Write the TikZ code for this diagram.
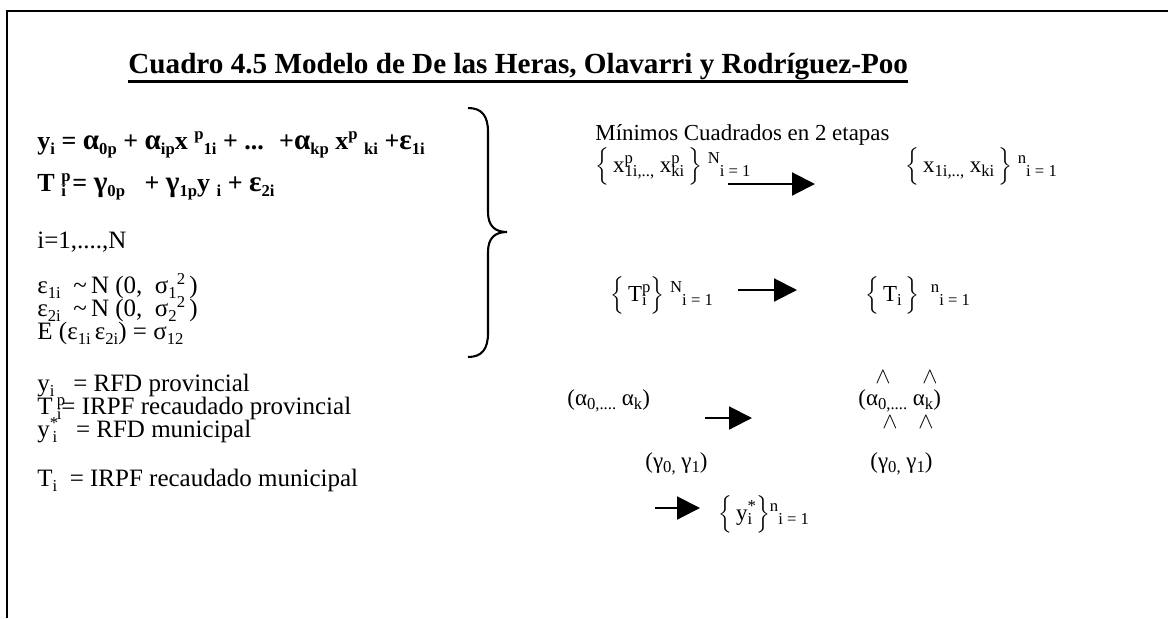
\documentclass[tikz,border=0pt]{standalone}
\usepackage{fontspec}
\setmainfont{Liberation Serif}
\usetikzlibrary{arrows.meta,positioning}

\newcommand{\hi}[1]{\raisebox{0.36em}{\footnotesize #1}}
\newcommand{\lo}[1]{\raisebox{-0.2em}{\footnotesize #1}}
\newcommand{\stk}[2]{\rlap{\hi{#1}}\lo{#2}}
\newcommand{\gk}[1]{{\fontsize{14}{14}\selectfont #1}}
\newcommand{\llave}[1]{$\Big\{$\,#1\,$\Big\}$}

\begin{document}
\begin{tikzpicture}[x=0.48pt,y=-0.48pt]
    \tikzstyle{txt}=[anchor=base west,inner sep=0pt,font=\fontsize{12}{14}\selectfont]
    \tikzstyle{eq}=[txt,font=\fontsize{12.5}{14}\selectfont\bfseries]
    \tikzstyle{rtxt}=[txt,font=\fontsize{11}{13}\selectfont]
    \tikzstyle{hat}=[anchor=base,inner sep=0pt,font=\fontsize{11}{13}\selectfont]
    \tikzstyle{arr}=[-{Triangle[length=11pt,width=11pt]},line width=1pt]

    \useasboundingbox (0,0) rectangle (1168,618);
    \draw[line width=1.4pt] (7,618) -- (7,11) -- (1168,11);

    % titulo
    \node[txt,font=\fontsize{14}{16}\selectfont\bfseries] at (128,73) (title)
        {Cuadro 4.5 Modelo de De las Heras, Olavarri y Rodríguez-Poo};
    \draw[line width=1.4pt] ([yshift=-4pt]title.base west) -- ([yshift=-4pt]title.base east);

    % modelo
    \node[eq] at (37,149) (eq1) {y\lo{i} = \gk{α}\lo{0p} + \gk{α}\lo{ip}x~\hi{p}\lo{1i} + ...~ +\gk{α}\lo{kp}~x\hi{p}~\lo{ki} +\gk{ε}\lo{1i}};
    \node[eq] at (37,191) (eq2) {T~\stk{p}{i} = \gk{γ}\lo{0p}~~ + \gk{γ}\lo{1p}y~\lo{i} + \gk{ε}\lo{2i}};
    \node[txt] at (37,248) (idx) {i=1,....,N};
    \node[txt] at (37,293) (err1) {ε\lo{1i}~ \textasciitilde\,N (0,~ σ\lo{1}\hi{2}\,)};
    \node[txt] at (37,316) (err2) {ε\lo{2i}~ \textasciitilde\,N (0,~ σ\lo{2}\hi{2}\,)};
    \node[txt] at (37,339) (cov) {E (ε\lo{1i}\,ε\lo{2i}) = σ\lo{12}};

    % definiciones
    \node[txt] at (37,391) (def1) {y\lo{i}~~ = RFD provincial};
    \node[txt] at (37,414) (def2) {T\,\stk{p}{i}= IRPF recaudado provincial};
    \node[txt] at (37,437) (def3) {y\stk{*}{\,i}~~ = RFD municipal};
    \node[txt] at (37,486) (def4) {T\lo{i}~ = IRPF recaudado municipal};

    \draw[line width=1pt] (468,108) .. controls (482,108) and (488,116) .. (488,132)
        -- (488,212) .. controls (488,226) and (495,232) .. (507,232)
        .. controls (495,232) and (488,238) .. (488,252)
        -- (488,333) .. controls (488,349) and (482,357) .. (468,357);

    % estimacion
    \node[rtxt] at (595,140) (mc) {Mínimos Cuadrados en 2 etapas};
    \node[rtxt] at (595,172) (xp) {\llave{x\stk{p}{1i,..,} x\stk{p}{ki}}~\hi{N}\lo{i = 1}};
    \node[rtxt] at (905,172) (xm) {\llave{x\lo{1i,..,} x\lo{ki}}~\hi{n}\lo{i = 1}};
    \node[rtxt] at (610,301) (tp) {\llave{T\stk{p}{i}}~\hi{N}\lo{i = 1}};
    \node[rtxt] at (865,301) (tm) {\llave{T\lo{i}}~~\hi{n}\lo{i = 1}};

    \node[rtxt] at (567,405) (alp) {(α\lo{0,....}~α\lo{k})};
    \node[rtxt] at (858,405) (alm) {(α\lo{0,....}~α\lo{k})};
    \node[hat] at (883,383) (h1) {$\wedge$};
    \node[hat] at (930,383) (h2) {$\wedge$};
    \node[hat] at (890,428) (h3) {$\wedge$};
    \node[hat] at (926,428) (h4) {$\wedge$};
    \node[rtxt] at (645,468) (gap) {(γ\lo{0,}~γ\lo{1})};
    \node[rtxt] at (870,468) (gam) {(γ\lo{0,}~γ\lo{1})};
    \node[rtxt] at (718,520) (ym) {\llave{y\stk{*}{i}}\hi{n}\lo{i = 1}};

    \coordinate (a1) at (728,184);
    \coordinate (b1) at (815,184);
    \coordinate (a2) at (738,290);
    \coordinate (b2) at (797,290);
    \coordinate (a3) at (705,418);
    \coordinate (b3) at (752,418);
    \coordinate (a4) at (655,508);
    \coordinate (b4) at (700,508);
    \draw[arr] (a1) -- (b1);
    \draw[arr] (a2) -- (b2);
    \draw[arr] (a3) -- (b3);
    \draw[arr] (a4) -- (b4);
\end{tikzpicture}
\end{document}
